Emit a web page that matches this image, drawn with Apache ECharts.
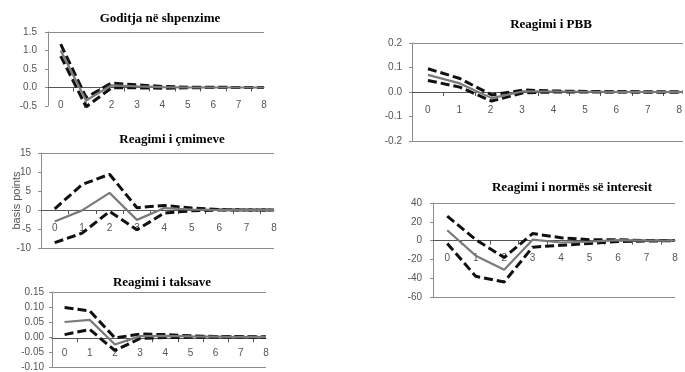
<!DOCTYPE html>
<html><head><meta charset="utf-8">
<script src="https://cdn.jsdelivr.net/npm/echarts@6/dist/echarts.min.js"></script>
<style>html,body{margin:0;padding:0;background:#fff}#c{width:685px;height:372px}</style>
</head><body><div id="c"></div>
<script>
// ---- data ----
const periods = ['0','1','2','3','4','5','6','7','8'];

const spendTitle = 'Goditja në shpenzime';
const spendUpper = [1.17, -0.27, 0.12, 0.07, 0.03, 0.01, 0.01, 0.0, 0.0];
const spendMid   = [1.00, -0.35, 0.06, 0.03, 0.01, 0.00, 0.00, 0.0, 0.0];
const spendLower = [0.85, -0.52, -0.01, -0.01, -0.02, -0.01, 0.0, 0.0, 0.0];
const spendTicks = [-0.5, 0.0, 0.5, 1.0, 1.5];

const priceTitle = 'Reagimi i çmimeve';
const priceUpper = [0.3, 6.7, 9.4, 0.6, 1.2, 0.5, 0.1, 0.0, 0.0];
const priceMid   = [-3.0, -0.1, 4.5, -2.6, 0.5, 0.1, 0.0, 0.0, 0.0];
const priceLower = [-8.6, -6.1, -0.4, -5.2, -0.8, -0.2, 0.0, 0.0, 0.0];
const priceTicks = [-10, -5, 0, 5, 10, 15];
const priceAxisName = 'basis points';

const taxTitle = 'Reagimi i taksave';
const taxUpper = [0.098, 0.087, -0.003, 0.010, 0.008, 0.004, 0.002, 0.001, 0.0];
const taxMid   = [0.050, 0.057, -0.025, 0.003, 0.004, 0.002, 0.001, 0.0, 0.0];
const taxLower = [0.008, 0.025, -0.045, -0.005, -0.002, -0.001, 0.0, 0.0, 0.0];
const taxTicks = [-0.10, -0.05, 0.00, 0.05, 0.10, 0.15];

const gdpTitle = 'Reagimi i PBB';
const gdpUpper = [0.095, 0.055, -0.012, 0.008, 0.004, 0.002, 0.001, 0.0, 0.0];
const gdpMid   = [0.070, 0.035, -0.025, 0.003, 0.002, 0.001, 0.0, 0.0, 0.0];
const gdpLower = [0.047, 0.020, -0.037, -0.003, 0.0, 0.0, 0.0, 0.0, 0.0];
const gdpTicks = [-0.2, -0.1, 0.0, 0.1, 0.2];

const rateTitle = 'Reagimi i normës së interesit';
const rateUpper = [26, 1, -18, 7.5, 3, 1, 1, 0, 0];
const rateMid   = [11, -16, -31, 1, -2, -1, 0.5, 0, 0];
const rateLower = [-3, -38, -44, -7, -5, -3, -1, -0.5, 0];
const rateTicks = [-60, -40, -20, 0, 20, 40];

// ---- layout ----
const panels = [
  {title: spendTitle, up: spendUpper, mid: spendMid, lo: spendLower, ticks: spendTicks, dec: 1,
   grid: {left: 48, top: 32, width: 216, height: 74}, tx: 160, ty: 12, bottomLine: false, lm: 11, xm: 13},
  {title: priceTitle, up: priceUpper, mid: priceMid, lo: priceLower, ticks: priceTicks, dec: 0, name: priceAxisName,
   grid: {left: 41, top: 153, width: 233, height: 95}, tx: 172, ty: 133, bottomLine: true, lm: 10, xm: 13},
  {title: taxTitle, up: taxUpper, mid: taxMid, lo: taxLower, ticks: taxTicks, dec: 2,
   grid: {left: 52, top: 292, width: 214, height: 77}, tx: 162, ty: 276, bottomLine: true, lm: 8, xm: 10},
  {title: gdpTitle, up: gdpUpper, mid: gdpMid, lo: gdpLower, ticks: gdpTicks, dec: 1,
   grid: {left: 412, top: 43, width: 271, height: 98}, tx: 551, ty: 18, bottomLine: true, lm: 10, xm: 13},
  {title: rateTitle, up: rateUpper, mid: rateMid, lo: rateLower, ticks: rateTicks, dec: 0,
   grid: {left: 433, top: 203, width: 242, height: 94}, tx: 572, ty: 181, bottomLine: true, lm: 11, xm: 13}
];

const labelFont = {color: '#555', fontSize: 10, fontFamily: 'Liberation Sans, Arial, sans-serif'};
const periodVals = periods.map(Number);
const tickVals = periodVals.slice(0, -1).map(v => v + 0.5);
const xMin = -0.5, xMax = periodVals[periodVals.length - 1];

const option = {animation: false, grid: [], xAxis: [], yAxis: [], series: [], title: []};
const np = panels.length;
panels.forEach((p, i) => {
  const n = p.ticks.length;
  const yMin = p.ticks[0], yMax = p.ticks[n - 1];
  option.grid[i] = Object.assign({}, p.grid);
  // strip grid whose bottom edge is the value-zero line: carries the category axis
  option.grid[np + i] = {left: p.grid.left, top: p.grid.top, width: p.grid.width,
    height: p.grid.height * yMax / (yMax - yMin)};
  option.title.push({text: p.title, left: p.tx, top: p.ty, textAlign: 'center', padding: 0,
    textStyle: {fontFamily: 'Liberation Serif, Times New Roman, serif', fontWeight: 'bold', fontSize: 13, color: '#000'}});
  option.xAxis[i] = {gridIndex: i, type: 'value', min: xMin, max: xMax, show: false};
  option.xAxis[np + i] = {
    gridIndex: np + i, type: 'value', min: xMin, max: xMax, position: 'bottom',
    axisLine: {show: true, onZero: false, lineStyle: {color: '#555', width: 1}},
    axisTick: {show: true, customValues: tickVals, length: 4, lineStyle: {color: '#555'}},
    axisLabel: Object.assign({customValues: periodVals, formatter: v => periods[Math.round(v)], margin: p.xm}, labelFont),
    splitLine: {show: false}
  };
  option.yAxis[np + i] = {gridIndex: np + i, type: 'value', min: 0, max: 1, show: false};
  const colors = p.ticks.map((t, k) => (k === n - 1 || (k === 0 && p.bottomLine)) ? '#8c8c8c' : 'transparent');
  const yAx = {
    gridIndex: i, type: 'value', min: yMin, max: yMax, interval: p.ticks[1] - p.ticks[0],
    axisLine: {show: true, onZero: false, lineStyle: {color: '#8c8c8c', width: 1}},
    axisTick: {show: true, length: 3, lineStyle: {color: '#8c8c8c'}},
    axisLabel: Object.assign({formatter: v => Number(v).toFixed(p.dec), margin: p.lm}, labelFont),
    splitLine: {show: true, lineStyle: {color: colors, width: 1}}
  };
  if (p.name) {
    Object.assign(yAx, {name: p.name, nameLocation: 'middle', nameRotate: 90, nameGap: 19, nameMoveOverlap: false,
      nameTextStyle: {color: '#555', fontSize: 11, fontFamily: 'Liberation Sans, Arial, sans-serif'}});
  }
  option.yAxis[i] = yAx;
  const dashed = {color: '#111', width: 3, type: [9, 4]};
  [[p.up, dashed], [p.lo, dashed], [p.mid, {color: '#7a7a7a', width: 2.2, type: 'solid'}]].forEach(([arr, ls]) => {
    option.series.push({type: 'line', xAxisIndex: i, yAxisIndex: i, symbol: 'none', silent: true, z: 3,
      data: arr.map((v, k) => [periodVals[k], v]), lineStyle: ls});
  });
});

const chart = echarts.init(document.getElementById('c'), null, {renderer: 'canvas'});
chart.setOption(option);
</script>
</body></html>
